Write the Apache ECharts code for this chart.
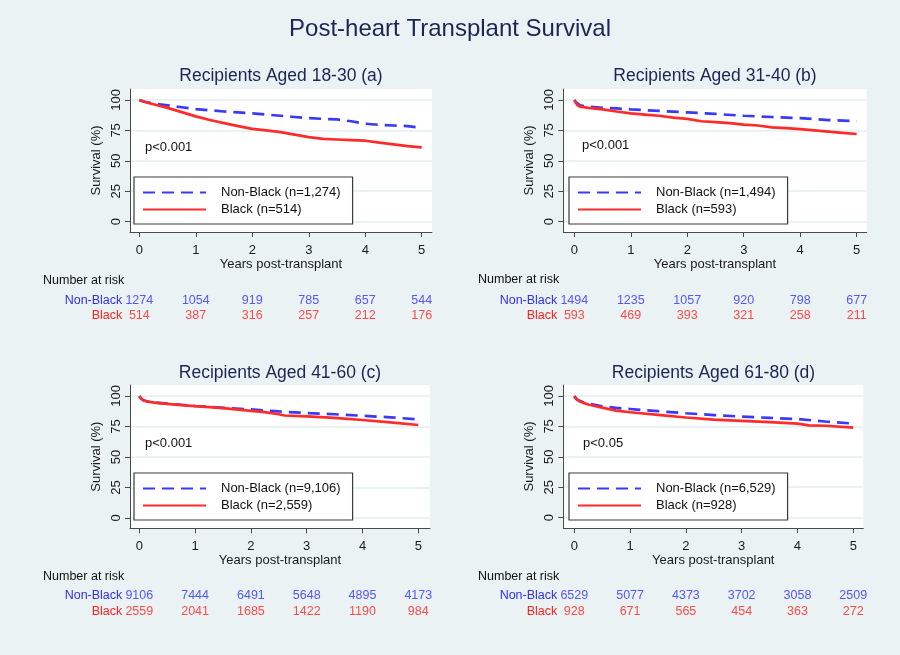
<!DOCTYPE html>
<html><head><meta charset="utf-8">
<script src="https://cdn.jsdelivr.net/npm/echarts@6/dist/echarts.min.js"></script>
<style>html,body{margin:0;padding:0;background:#eaf2f3}#c{width:900px;height:655px}</style>
</head><body><div id="c"></div>
<script>
const FONT = "'Liberation Sans', Arial, Helvetica, sans-serif";
const BLUE = '#3a3af6', RED = '#ff2a2a';
const TXT_BLUE = '#2f2ff2', TXT_RED = '#ff2020';
const NAVY = '#1c2553';

const mainTitle = 'Post-heart Transplant Survival';
const panelTitles = ['Recipients Aged 18-30 (a)', 'Recipients Aged 31-40 (b)', 'Recipients Aged 41-60 (c)', 'Recipients Aged 61-80 (d)'];
const pValues = ['p<0.001', 'p<0.001', 'p<0.001', 'p<0.05'];
const nonBlackNames = ['Non-Black (n=1,274)', 'Non-Black (n=1,494)', 'Non-Black (n=9,106)', 'Non-Black (n=6,529)'];
const blackNames = ['Black (n=514)', 'Black (n=593)', 'Black (n=2,559)', 'Black (n=928)'];
const xTicks = [0, 1, 2, 3, 4, 5];
const yTicks = [0, 25, 50, 75, 100];
const riskYears = [0, 1, 2, 3, 4, 5];
const riskRows = ['Black', 'Non-Black'];

// Survival curves [years, survival %]
const aNonBlack = [[0,100],[0.1,98.5],[0.25,97],[0.5,95.5],[0.75,94],[1,92.5],[1.25,91.5],[1.5,90.5],[1.75,89.8],[2,89],[2.25,88],[2.5,87],[2.75,86],[3,85],[3.25,84.5],[3.5,84],[3.75,82.5],[4,80.5],[4.25,79.5],[4.5,79],[4.75,78.5],[5,77]];
const aBlack = [[0,100],[0.05,99],[0.1,98.3],[0.25,96.5],[0.5,93.5],[0.75,90],[1,86.5],[1.25,83.5],[1.5,81],[1.75,78.5],[2,76.2],[2.25,75],[2.5,73.5],[2.75,71.5],[3,69.5],[3.25,68],[3.5,67.5],[3.75,67],[4,66.5],[4.25,65],[4.5,63.5],[4.75,62],[5,61]];
const bNonBlack = [[0,100],[0.03,98],[0.06,96.5],[0.1,95.5],[0.25,94.5],[0.5,93.5],[0.75,93],[1,92.3],[1.5,91],[2,89.8],[2.5,88.5],[3,87],[3.5,86],[4,85],[4.5,83.5],[5,82.5]];
const bBlack = [[0,100],[0.03,97.5],[0.06,95.5],[0.1,94.5],[0.25,93.5],[0.5,92.3],[0.75,90.5],[1,89],[1.25,88],[1.5,87],[1.75,85.5],[2,84.5],[2.25,82.5],[2.5,81.8],[2.75,81],[3,79.8],[3.25,79],[3.5,77.5],[3.75,76.8],[4,76],[4.25,75],[4.5,74],[4.75,73],[5,72]];
const cNonBlack = [[0,100],[0.03,98],[0.07,96.5],[0.15,95.5],[0.3,94.5],[0.5,93.7],[0.75,92.8],[1,91.8],[1.5,90.3],[2,89],[2.5,87.3],[3,86],[3.5,85],[4,83.8],[4.5,82.5],[5,80.8]];
const cBlack = [[0,100],[0.03,98],[0.07,96.5],[0.15,95.3],[0.3,94.3],[0.5,93.5],[0.75,92.5],[1,91.6],[1.5,90],[2,87.8],[2.25,86.8],[2.5,85],[2.6,84],[3,83.3],[3.5,82],[4,80.3],[4.5,78.3],[5,76.2]];
const dNonBlack = [[0,100],[0.03,98],[0.07,96.5],[0.15,95],[0.25,93.8],[0.5,91.5],[0.75,90.2],[1,89.3],[1.5,87.5],[2,85.8],[2.5,84.3],[3,83],[3.5,82],[4,81],[4.5,79],[5,77.3]];
const dBlack = [[0,100],[0.03,97.8],[0.07,96.3],[0.15,94.5],[0.25,93],[0.5,90.4],[0.75,88],[1,86.6],[1.5,84.5],[2,82.3],[2.5,80.5],[3,79.5],[3.5,78.5],[4,77.3],[4.2,75.8],[4.5,75.5],[5,74]];

// Numbers at risk
const aRiskNonBlack = [1274, 1054, 919, 785, 657, 544];
const aRiskBlack = [514, 387, 316, 257, 212, 176];
const bRiskNonBlack = [1494, 1235, 1057, 920, 798, 677];
const bRiskBlack = [593, 469, 393, 321, 258, 211];
const cRiskNonBlack = [9106, 7444, 6491, 5648, 4895, 4173];
const cRiskBlack = [2559, 2041, 1685, 1422, 1190, 984];
const dRiskNonBlack = [6529, 5077, 4373, 3702, 3058, 2509];
const dRiskBlack = [928, 671, 565, 454, 363, 272];

const curvesNB = [aNonBlack, bNonBlack, cNonBlack, dNonBlack];
const curvesB = [aBlack, bBlack, cBlack, dBlack];
const risksNB = [aRiskNonBlack, bRiskNonBlack, cRiskNonBlack, dRiskNonBlack];
const risksB = [aRiskBlack, bRiskBlack, cRiskBlack, dRiskBlack];

// layout (pixels) per panel
const layout = [
  {L:130, R:432, T:89, B:232, xmin:-0.165, xmax:5.182, legL:134, legT:177, pX:145, pY:147, tX:281, tY:76, riskT:292.7, narX:43, narY:281},
  {L:563.3, R:866.7, T:89, B:232, xmin:-0.195, xmax:5.177, legL:569, legT:177, pX:582, pY:145, tX:715, tY:76, riskT:292.7, narX:478, narY:280},
  {L:130, R:430, T:385, B:528.3, xmin:-0.167, xmax:5.21, legL:134, legT:473, pX:145, pY:443, tX:280, tY:373, riskT:588, narX:43, narY:577},
  {L:563.3, R:863.3, T:385, B:528, xmin:-0.197, xmax:5.18, legL:569, legT:473, pX:583, pY:443, tX:713.5, tY:373, riskT:588, narX:478, narY:577}
];
const YMIN = -8.5, YMAX = 109;

const grid = [], xAxis = [], yAxis = [], series = [], legend = [], graphic = [];
graphic.push({type:'text', x:450, y:29, style:{text:mainTitle, font:'24px ' + FONT, fill:NAVY, align:'center', verticalAlign:'middle'}});

layout.forEach((g, i) => {
  grid.push({left:g.L, top:g.T, width:g.R-g.L, height:g.B-g.T, show:true, backgroundColor:'#ffffff', borderWidth:0});
  xAxis.push({type:'value', gridIndex:i, min:g.xmin, max:g.xmax,
    name:'Years post-transplant', nameLocation:'middle', nameGap:26,
    nameTextStyle:{fontSize:13, color:'#1a1a1a', fontFamily:FONT},
    axisLine:{show:true, onZero:false, lineStyle:{color:'#4a4a4a', width:1}},
    axisTick:{show:true, length:5, customValues:xTicks, lineStyle:{color:'#4a4a4a'}},
    axisLabel:{customValues:xTicks, fontSize:13, color:'#1a1a1a', fontFamily:FONT, margin:12,
      formatter: v => (Number.isInteger(v) ? String(v) : '')},
    splitLine:{show:false}});
  yAxis.push({type:'value', gridIndex:i, min:YMIN, max:YMAX,
    name:'Survival (%)', nameLocation:'middle', nameGap:27,
    nameTextStyle:{fontSize:13, color:'#1a1a1a', fontFamily:FONT},
    axisLine:{show:true, onZero:false, lineStyle:{color:'#4a4a4a', width:1}},
    axisTick:{show:true, length:5, customValues:yTicks, lineStyle:{color:'#4a4a4a'}},
    axisLabel:{customValues:yTicks, rotate:90, fontSize:13, color:'#1a1a1a', fontFamily:FONT, margin:7,
      formatter: v => (yTicks.includes(v) ? String(v) : '')},
    splitLine:{show:true, lineStyle:{color:'#e4eef0', width:1.5}}});
  series.push({type:'line', name:nonBlackNames[i], xAxisIndex:i, yAxisIndex:i, data:curvesNB[i], symbol:'none',
    lineStyle:{color:BLUE, width:2.7, type:[12,7]}, itemStyle:{color:BLUE}, z:3, silent:true});
  series.push({type:'line', name:blackNames[i], xAxisIndex:i, yAxisIndex:i, data:curvesB[i], symbol:'none',
    lineStyle:{color:RED, width:2.7}, itemStyle:{color:RED}, z:4, silent:true});
  legend.push({orient:'vertical', left:g.legL, top:g.legT, data:[nonBlackNames[i], blackNames[i]],
    itemWidth:63, itemHeight:14, itemGap:4, padding:[9,12,8,8], backgroundColor:'#ffffff',
    borderColor:'#3a3a3a', borderWidth:1.2, borderRadius:0, selectedMode:false,
    itemStyle:{opacity:0},
    textStyle:{fontSize:13, color:'#111', fontFamily:FONT, padding:[0,0,0,10], width:134}});
  graphic.push({type:'text', x:g.tX, y:g.tY, style:{text:panelTitles[i], font:'17.5px ' + FONT, fill:NAVY, align:'center', verticalAlign:'middle'}});
  graphic.push({type:'text', x:g.pX, y:g.pY, style:{text:pValues[i], font:'13px ' + FONT, fill:'#111', align:'left', verticalAlign:'middle'}});
  graphic.push({type:'text', x:g.narX, y:g.narY, style:{text:'Number at risk', font:'12.5px ' + FONT, fill:'#111', align:'left', verticalAlign:'middle'}});
});

// risk tables
layout.forEach((g, i) => {
  const gi = 4 + i;
  const tick0 = g.L + (0 - g.xmin) / (g.xmax - g.xmin) * (g.R - g.L);
  grid.push({left:g.L, top:g.riskT, width:g.R-g.L, height:31});
  xAxis.push({type:'value', gridIndex:gi, min:g.xmin, max:g.xmax, show:false});
  yAxis.push({type:'category', gridIndex:gi, data:riskRows, axisLine:{show:false}, axisTick:{show:false}, splitLine:{show:false},
    axisLabel:{interval:0, fontSize:12.5, fontFamily:FONT, margin:g.L - (tick0 - 17),
      color: v => (v === 'Non-Black' ? TXT_BLUE : TXT_RED)}});
  const mk = (vals, row, color) => ({type:'scatter', xAxisIndex:gi, yAxisIndex:gi, silent:true,
    data: riskYears.map((t, k) => [t, row, vals[k]]), symbolSize:2, itemStyle:{color:'rgba(0,0,0,0)'},
    label:{show:true, position:'inside', formatter: p => String(p.value[2]), color:color, fontSize:12.5, fontFamily:FONT}});
  series.push(mk(risksNB[i], 'Non-Black', TXT_BLUE));
  series.push(mk(risksB[i], 'Black', TXT_RED));
});

const chart = echarts.init(document.getElementById('c'), null, {renderer:'canvas'});
chart.setOption({backgroundColor:'#eaf2f3', animation:false, textStyle:{fontFamily:FONT},
  grid, xAxis, yAxis, series, legend, graphic});
</script></body></html>
